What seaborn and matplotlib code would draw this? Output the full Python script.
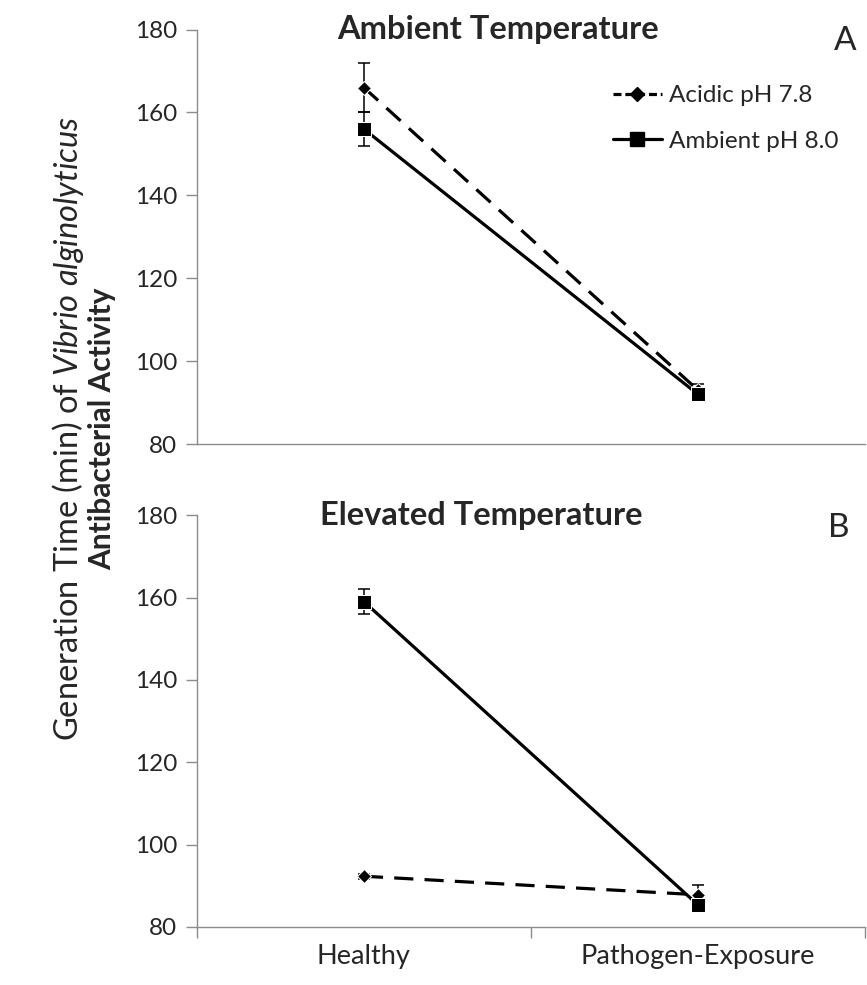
import matplotlib
matplotlib.use("Agg")
import matplotlib.pyplot as plt
import seaborn as sns
import pandas as pd
import numpy as np
from matplotlib.lines import Line2D

# ---- data ----
categories = ["Healthy", "Pathogen-Exposure"]
series = ["Acidic pH 7.8", "Ambient pH 8.0"]
panel_titles = ["Ambient Temperature", "Elevated Temperature"]
panel_letters = ["A", "B"]

ambtemp_acidic = [166.0, 93.0]
ambtemp_acidic_err = [6.0, 1.5]
ambtemp_ambient = [156.0, 92.0]
ambtemp_ambient_err = [4.0, 1.0]

eletemp_acidic = [92.3, 87.8]
eletemp_acidic_err = [0.6, 2.4]
eletemp_ambient = [159.0, 85.3]
eletemp_ambient_err = [3.0, 1.0]

yticks = [80, 100, 120, 140, 160, 180]

sns.set_theme(style="white")
plt.rcParams["font.family"] = ["Lato", "DejaVu Sans"]
plt.rcParams["mathtext.fontset"] = "custom"
plt.rcParams["mathtext.rm"] = "Lato"
plt.rcParams["mathtext.it"] = "Lato:italic"

fig = plt.figure(figsize=(8.67, 9.85), dpi=100)
ax_top = fig.add_axes([0.227, 0.549, 0.771, 0.421])
ax_bot = fig.add_axes([0.227, 0.059, 0.771, 0.418])

panels = [
    (ax_top, ambtemp_acidic, ambtemp_acidic_err, ambtemp_ambient, ambtemp_ambient_err),
    (ax_bot, eletemp_acidic, eletemp_acidic_err, eletemp_ambient, eletemp_ambient_err),
]
title_x = [0.45, 0.425]
letter_pos = [(0.97, 0.973), (0.96, 0.968)]

grey = "#8c8c8c"
for i, (ax, ac, ace, am, ame) in enumerate(panels):
    df = pd.DataFrame({
        "x": list(range(len(categories))) * 2,
        "value": ac + am,
        "err": ace + ame,
        "series": [series[0]] * len(categories) + [series[1]] * len(categories),
    })
    for s in series:
        sub = df[df["series"] == s]
        ax.errorbar(sub["x"], sub["value"], yerr=sub["err"], fmt="none",
                    ecolor="black", elinewidth=1.1, capsize=4.5, capthick=1.1, zorder=2)
    sns.lineplot(data=df, x="x", y="value", style="series", hue="series",
                 palette={series[0]: "black", series[1]: "black"},
                 markers={series[0]: "D", series[1]: "s"},
                 dashes={series[0]: (6, 3.5), series[1]: ""},
                 markersize=8, linewidth=2.3, ax=ax, legend=False, zorder=3)
    for ln in ax.lines:
        if ln.get_marker() == "D":
            ln.set_markersize(7.5)
        elif ln.get_marker() == "s":
            ln.set_markersize(10)

    ax.set_xlim(-0.5, 1.5)
    ax.set_ylim(80, 180)
    ax.set_yticks(yticks)
    ax.set_yticklabels([str(t) for t in yticks], fontsize=17.5)
    ax.set_xlabel("")
    ax.set_ylabel("")
    for side in ["top", "right"]:
        ax.spines[side].set_visible(False)
    for side in ["left", "bottom"]:
        ax.spines[side].set_color(grey)
        ax.spines[side].set_linewidth(1.0)
    ax.tick_params(axis="y", direction="out", length=8, width=1.0, color=grey,
                   left=True, pad=6)
    ax.text(title_x[i], 1.0, panel_titles[i], transform=ax.transAxes, ha="center",
            va="center", fontsize=23.5, fontweight="bold")
    ax.text(letter_pos[i][0], letter_pos[i][1], panel_letters[i], transform=ax.transAxes,
            ha="center", va="center", fontsize=24)

# x axes
ax_top.set_xticks([])
ax_bot.set_xticks([-0.5, 0.5, 1.5])
ax_bot.set_xticklabels([])
ax_bot.set_xticks([0, 1], minor=True)
ax_bot.set_xticklabels(categories, minor=True, fontsize=19.5)
ax_bot.tick_params(axis="x", which="major", direction="out", length=8, width=1.0,
                   color=grey, bottom=True)
ax_bot.tick_params(axis="x", which="minor", length=0, pad=12)

# legend
handles = [
    Line2D([], [], color="black", lw=2.3, ls=(0, (2.5, 1.2)), marker="D", markersize=7.5),
    Line2D([], [], color="black", lw=2.3, ls="-", marker="s", markersize=10),
]
ax_top.legend(handles, series, loc="upper left", bbox_to_anchor=(0.59, 0.918),
              frameon=False, fontsize=17.5, handlelength=2.0, labelspacing=1.0,
              handletextpad=0.3)

# y labels
fig.text(0.118, 0.565, "Antibacterial Activity", rotation=90, ha="center",
         va="center", fontsize=21.5, fontweight="bold")
fig.text(0.078, 0.565, r"Generation Time (min) of $\it{Vibrio\ alginolyticus}$",
         rotation=90, ha="center", va="center", fontsize=23.5)

fig.savefig("out.png", dpi=100)
